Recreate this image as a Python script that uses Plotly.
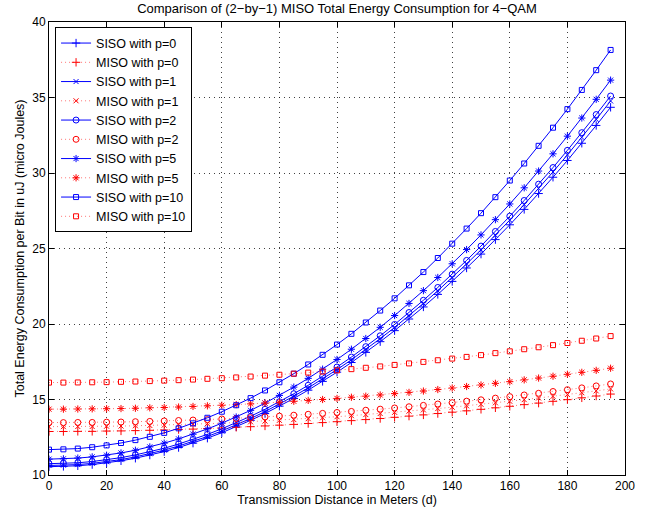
import plotly.graph_objects as go

distance = [0, 5, 10, 15, 20, 25, 30, 35, 40, 45, 50, 55, 60, 65, 70, 75, 80, 85, 90, 95,
            100, 105, 110, 115, 120, 125, 130, 135, 140, 145, 150, 155, 160, 165, 170, 175, 180, 185, 190, 195]

siso_p0 = [10.55, 10.57, 10.61, 10.69, 10.80, 10.94, 11.11, 11.32, 11.55, 11.82, 12.11, 12.44, 12.80, 13.19,
           13.62, 14.07, 14.56, 15.07, 15.62, 16.20, 16.81, 17.45, 18.12, 18.83, 19.56, 20.33, 21.13, 21.96,
           22.82, 23.71, 24.63, 25.59, 26.57, 27.59, 28.64, 29.72, 30.83, 31.97, 33.15, 34.35]
miso_p0 = [12.88, 12.88, 12.89, 12.89, 12.91, 12.92, 12.94, 12.96, 12.98, 13.01, 13.04, 13.08, 13.11, 13.16,
           13.20, 13.25, 13.30, 13.35, 13.41, 13.47, 13.53, 13.60, 13.67, 13.74, 13.82, 13.90, 13.98, 14.07,
           14.16, 14.25, 14.35, 14.45, 14.55, 14.66, 14.76, 14.88, 14.99, 15.11, 15.23, 15.36]
siso_p1 = [10.63, 10.65, 10.69, 10.77, 10.88, 11.02, 11.20, 11.41, 11.65, 11.92, 12.22, 12.55, 12.92, 13.31,
           13.74, 14.20, 14.69, 15.22, 15.77, 16.36, 16.98, 17.63, 18.31, 19.03, 19.77, 20.55, 21.36, 22.20,
           23.07, 23.98, 24.91, 25.88, 26.88, 27.91, 28.98, 30.07, 31.20, 32.36, 33.55, 34.77]
miso_p1 = [13.20, 13.20, 13.21, 13.21, 13.23, 13.24, 13.26, 13.28, 13.30, 13.33, 13.36, 13.40, 13.43, 13.48,
           13.52, 13.57, 13.62, 13.67, 13.73, 13.79, 13.86, 13.93, 14.00, 14.07, 14.15, 14.23, 14.31, 14.40,
           14.49, 14.58, 14.68, 14.78, 14.88, 14.99, 15.10, 15.21, 15.33, 15.45, 15.57, 15.70]
siso_p2 = [10.75, 10.77, 10.81, 10.89, 11.01, 11.15, 11.33, 11.53, 11.77, 12.05, 12.35, 12.69, 13.06, 13.46,
           13.89, 14.35, 14.85, 15.38, 15.94, 16.53, 17.15, 17.81, 18.50, 19.22, 19.97, 20.76, 21.57, 22.42,
           23.30, 24.21, 25.16, 26.13, 27.14, 28.18, 29.26, 30.36, 31.50, 32.67, 33.87, 35.10]
miso_p2 = [13.47, 13.47, 13.48, 13.48, 13.50, 13.51, 13.53, 13.55, 13.58, 13.61, 13.64, 13.67, 13.71, 13.75,
           13.80, 13.85, 13.90, 13.96, 14.02, 14.08, 14.14, 14.21, 14.29, 14.36, 14.44, 14.52, 14.61, 14.70,
           14.79, 14.89, 14.98, 15.09, 15.19, 15.30, 15.41, 15.53, 15.65, 15.77, 15.90, 16.03]
siso_p5 = [11.05, 11.07, 11.12, 11.20, 11.31, 11.46, 11.64, 11.86, 12.11, 12.39, 12.70, 13.05, 13.43, 13.84,
           14.28, 14.76, 15.27, 15.82, 16.40, 17.01, 17.65, 18.33, 19.04, 19.78, 20.56, 21.36, 22.21, 23.08,
           23.99, 24.93, 25.90, 26.91, 27.95, 29.02, 30.13, 31.27, 32.44, 33.64, 34.88, 36.15]
miso_p5 = [14.36, 14.36, 14.37, 14.38, 14.39, 14.40, 14.42, 14.45, 14.47, 14.50, 14.54, 14.58, 14.62, 14.66,
           14.71, 14.76, 14.82, 14.88, 14.94, 15.00, 15.07, 15.15, 15.22, 15.30, 15.39, 15.47, 15.56, 15.66,
           15.76, 15.86, 15.96, 16.07, 16.18, 16.30, 16.42, 16.54, 16.67, 16.80, 16.93, 17.07]
siso_p10 = [11.68, 11.70, 11.75, 11.84, 11.96, 12.12, 12.31, 12.53, 12.79, 13.09, 13.42, 13.79, 14.19, 14.62,
            15.09, 15.60, 16.14, 16.71, 17.32, 17.96, 18.64, 19.35, 20.10, 20.89, 21.70, 22.56, 23.44, 24.37,
            25.32, 26.32, 27.34, 28.40, 29.50, 30.63, 31.80, 33.00, 34.23, 35.50, 36.81, 38.15]
miso_p10 = [16.12, 16.12, 16.13, 16.14, 16.15, 16.17, 16.19, 16.22, 16.25, 16.28, 16.32, 16.37, 16.41, 16.46,
            16.52, 16.58, 16.64, 16.71, 16.78, 16.85, 16.93, 17.01, 17.10, 17.19, 17.29, 17.39, 17.49, 17.60,
            17.71, 17.82, 17.94, 18.07, 18.19, 18.33, 18.46, 18.60, 18.74, 18.89, 19.04, 19.20]

series_names = ["SISO with p=0", "MISO with p=0", "SISO with p=1", "MISO with p=1",
                "SISO with p=2", "MISO with p=2", "SISO with p=5", "MISO with p=5",
                "SISO with p=10", "MISO with p=10"]
series_values = [siso_p0, miso_p0, siso_p1, miso_p1, siso_p2, miso_p2, siso_p5, miso_p5, siso_p10, miso_p10]
series_symbols = ["cross-thin-open", "cross-thin-open", "x-thin-open", "x-thin-open",
                  "circle-open", "circle-open", "asterisk-open", "asterisk-open",
                  "square-open", "square-open"]
symbol_sizes = {"cross-thin-open": 6, "x-thin-open": 5, "circle-open": 6,
                "asterisk-open": 6, "square-open": 5}
x_ticks = [0, 20, 40, 60, 80, 100, 120, 140, 160, 180, 200]
y_ticks = [10, 15, 20, 25, 30, 35, 40]

FONT = "Liberation Sans, Arial, Helvetica, sans-serif"

fig = go.Figure()
for name, vals, sym in zip(series_names, series_values, series_symbols):
    if name.startswith("SISO"):
        line = dict(color="rgb(0,0,255)", width=1)
        mcol = "rgb(0,0,255)"
    else:
        line = dict(color="rgba(255,0,0,0.55)", width=1, dash="1px,3px")
        mcol = "rgb(255,0,0)"
    fig.add_trace(go.Scatter(
        x=distance, y=vals, name=name, mode="lines+markers",
        line=line,
        marker=dict(symbol=sym, size=symbol_sizes[sym], color=mcol, line=dict(color=mcol, width=1)),
    ))

axis_common = dict(
    showline=True, linecolor="black", linewidth=1, mirror="ticks",
    ticks="inside", ticklen=5, tickcolor="black", tickwidth=1,
    showgrid=True, gridcolor="rgba(0,0,0,0.75)", gridwidth=1, griddash="1px,4px",
    zeroline=False, automargin=False,
    tickfont=dict(family=FONT, size=12, color="black"),
)

fig.update_layout(
    width=657, height=516,
    margin=dict(l=49, r=32, t=22, b=41),
    paper_bgcolor="white", plot_bgcolor="white",
    font=dict(family=FONT, size=12, color="black"),
    title=dict(text="Comparison of (2\u2212by\u22121) MISO Total Energy Consumption for 4\u2212QAM",
               x=(49 + 625) / 2 / 657, xanchor="center", y=1 - 8 / 516, yanchor="middle",
               font=dict(family=FONT, size=13, color="black")),
    xaxis=dict(range=[0, 200], tickvals=x_ticks,
               title=dict(text="Transmission Distance in Meters (d)", standoff=0,
                          font=dict(family=FONT, size=12.5)),
               **axis_common),
    yaxis=dict(range=[10, 40], tickvals=y_ticks,
               title=dict(text="Total Energy Consumption per Bit in uJ (micro Joules)", standoff=4,
                          font=dict(family=FONT, size=12.5)),
               **axis_common),
    legend=dict(x=0.0105, y=0.988, xanchor="left", yanchor="top",
                bgcolor="white", bordercolor="black", borderwidth=1,
                font=dict(family=FONT, size=12.5, color="black"),
                tracegroupgap=0, itemwidth=30),
    showlegend=True,
)

fig.write_html("out.html", config={"displayModeBar": False},
               post_script="document.body.style.margin='0px';")
